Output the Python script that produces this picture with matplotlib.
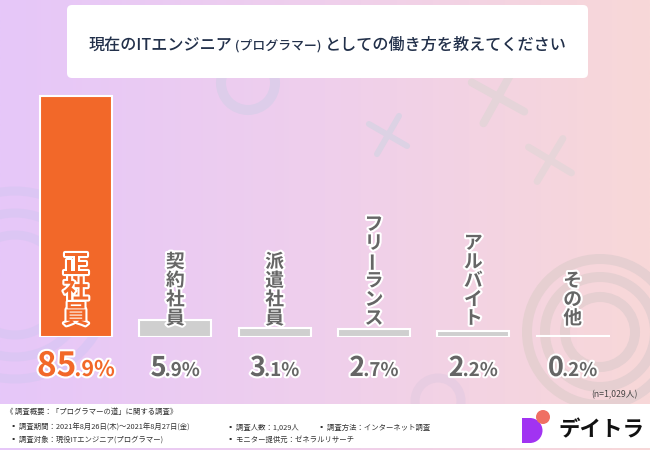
import matplotlib
matplotlib.use('Agg')
import matplotlib.pyplot as plt
import matplotlib.patheffects as pe
from matplotlib.patches import FancyBboxPatch, Circle, Rectangle, Wedge
from matplotlib.colors import LinearSegmentedColormap
import numpy as np

plt.rcParams['font.family'] = ['Noto Sans CJK JP', 'DejaVu Sans']

# survey result (%), n=1,029
categories = ['正社員', '契約社員', '派遣社員', 'フリーランス', 'アルバイト', 'その他']
shares = [85.9, 5.9, 3.1, 2.7, 2.2, 0.2]
bar_colors = ['#f26829', '#cfcfcf', '#cfcfcf', '#cfcfcf', '#cfcfcf', '#cfcfcf']

title_parts = ['現在のITエンジニア', ' (プログラマー) ', 'としての働き方を教えてください']
sample_note = '(n=1,029人)'
footer_head = '《 調査概要：「プログラマーの道」に関する調査》'
footer_items = ['▪ 調査期間：2021年8月26日(木)～2021年8月27日(金)',
                '▪ 調査人数：1,029人',
                '▪ 調査方法：インターネット調査',
                '▪ 調査対象：現役ITエンジニア(プログラマー)',
                '▪ モニター提供元：ゼネラルリサーチ']
brand = 'デイトラ'

ORANGE = '#f26829'
GRAY_TXT = '#666666'
W, H = 650, 450

fig = plt.figure(figsize=(W / 100, H / 100), dpi=100)

# background layer in pixel coords (y down)
bg = fig.add_axes([0, 0, 1, 1])
bg.set_xlim(0, W)
bg.set_ylim(H, 0)
bg.axis('off')
cmap = LinearSegmentedColormap.from_list('bg', ['#e6c7f9', '#efcfec', '#f8d8d8'])
bg.imshow(np.linspace(0, 1, 256).reshape(1, -1), extent=[0, W, H, 0],
          aspect='auto', cmap=cmap, zorder=0)


def ring(cx, cy, r, px, color):
    bg.add_patch(Circle((cx, cy), r, fill=False, lw=px * 0.72, ec=color, zorder=1))


def cross(cx, cy, length, ang, px, color):
    for a in (ang, ang + 90):
        dx = np.cos(np.radians(a)) * length / 2
        dy = np.sin(np.radians(a)) * length / 2
        bg.plot([cx - dx, cx + dx], [cy - dy, cy + dy], color=color, lw=px * 0.72,
                solid_capstyle='round', zorder=1)


# decorations
for r in (50, 72, 94):
    ring(15, 285, r, 9, '#dcc6f4')
for r in (35, 55, 73):
    ring(600, 332, r, 10, '#e6cfd1')
ring(438, 401, 23, 9, '#e8cde2')
ring(248, 83, 27, 10, '#ddcdea')
cross(388, 135, 44, 30, 6, '#dcd2e4')
cross(498, 97, 60, 29, 8, '#e5d4d9')
cross(550, 160, 50, 31, 7, '#e7d5d9')

# title box & footer band
bg.add_patch(FancyBboxPatch((67, 5), 521, 73, boxstyle='round,pad=0,rounding_size=5',
                            fc='white', ec='none', zorder=2))
bg.add_patch(Rectangle((0, 404), W, 44, fc='white', ec='none', zorder=2))

# chart axes
ax = fig.add_axes([26.3 / W, 113 / H, 596 / W, 280 / H])
ax.set_xlim(-0.5, 5.5)
ax.set_ylim(0, 100)
ax.axis('off')
ax.patch.set_visible(False)

x = np.arange(len(categories))
ax.bar(x, shares, width=0.724, color=bar_colors, edgecolor='white', linewidth=1.5, zorder=3)

stroke = [pe.withStroke(linewidth=3, foreground='white')]

# vertical category labels
for i, cat in enumerate(categories):
    big = i == 0
    fs = 18.5 if big else 13.5
    pitch = 25 if big else 18.8
    base = 21.5 if big else 18.5
    color = ORANGE if big else GRAY_TXT
    n = len(cat)
    for k, ch in enumerate(cat):
        rot = 90 if ch == 'ー' else 0  # 縦書きの長音
        ax.annotate(ch, xy=(i, 0), xytext=(0, base + pitch * (n - 1 - k)),
                    textcoords='offset pixels', ha='center', va='center',
                    fontsize=fs, fontweight='bold', color=color, rotation=rot,
                    path_effects=stroke, zorder=4)

rows = []


def row_text(axis, xy, pieces, dy, kern=0):
    texts = []
    for s, kw in pieces:
        texts.append(axis.annotate(s, xy=xy, xytext=(0, dy), textcoords='offset pixels',
                                   ha='left', va='baseline', zorder=5, **kw))
    rows.append((texts, dy, kern))


# value labels: big integer part, small decimal part
for i, v in enumerate(shares):
    ip, dp = f'{v:.1f}'.split('.')
    big = i == 0
    color = ORANGE if big else GRAY_TXT
    kw = dict(color=color, fontweight='bold', path_effects=stroke)
    row_text(ax, (i, 0), [(ip, dict(fontsize=24 if big else 19.5, **kw)),
                          ('.' + dp + '%', dict(fontsize=15.5 if big else 13.5, **kw))],
             -39, kern=-2)

# title
tkw = dict(color='#22304a', fontweight='medium')
row_text(bg, (327.5, 50), [(title_parts[0], dict(fontsize=11.6, **tkw)),
                           (title_parts[1], dict(fontsize=9.3, **tkw)),
                           (title_parts[2], dict(fontsize=11.6, **tkw))], 0)

fig.canvas.draw()
renderer = fig.canvas.get_renderer()
for texts, dy, kern in rows:
    widths = [t.get_window_extent(renderer).width for t in texts]
    total = sum(widths) + kern * (len(texts) - 1)
    x0 = -total / 2
    for t, w in zip(texts, widths):
        t.xyann = (x0, dy)
        x0 += w + kern

bg.text(638, 395, sample_note, ha='right', va='center', fontsize=6.3, color='#444444', zorder=3)

# footer
fkw = dict(fontsize=5.3, color='#333333', va='center', zorder=3)
bg.text(6, 412, footer_head, **fkw)
bg.text(10, 427.5, footer_items[0], **fkw)
bg.text(227, 427.5, footer_items[1], **fkw)
bg.text(318, 427.5, footer_items[2], **fkw)
bg.text(10, 439.5, footer_items[3], **fkw)
bg.text(227, 439.5, footer_items[4], **fkw)

# logo
bg.add_patch(Rectangle((522, 418), 9, 25, fc='#a133f2', ec='none', zorder=3))
bg.add_patch(Wedge((530, 430.5), 12.5, -90, 90, fc='#a133f2', ec='none', zorder=3))
bg.add_patch(Circle((543, 417), 7, fc='#ef6f63', ec='none', zorder=4))
bg.text(601, 430, brand, ha='center', va='center', fontsize=15.5, fontweight='bold',
        color='#111111', zorder=3)

fig.savefig('out.png', dpi=100)
